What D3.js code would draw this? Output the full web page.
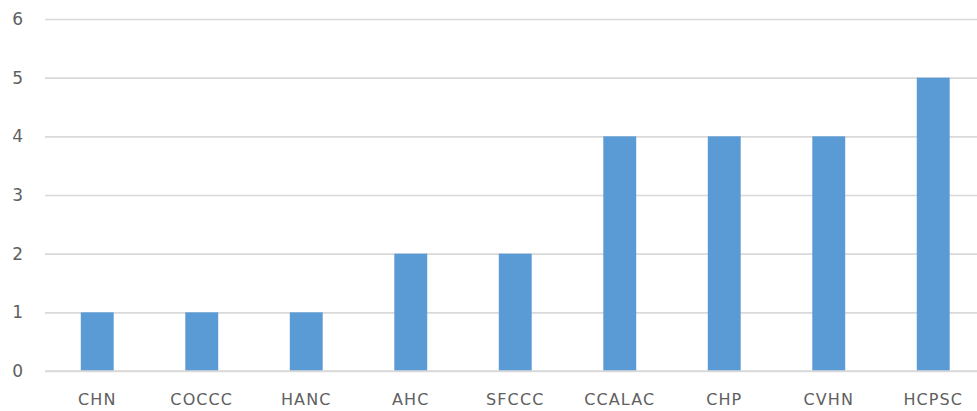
<!DOCTYPE html>
<html>
<head>
<meta charset="utf-8">
<script src="https://cdn.jsdelivr.net/npm/d3@7"></script>
<style>
  html, body { margin: 0; padding: 0; background: #fff; }
  svg { display: block; }
  .tick text { font-family: "DejaVu Sans", Verdana, sans-serif; fill: #606060; }
</style>
</head>
<body>
<svg id="chart" width="977" height="411"></svg>
<script>
// Organisation names and the count for each one
const categories = ["CHN", "COCCC", "HANC", "AHC", "SFCCC", "CCALAC", "CHP", "CVHN", "HCPSC"];
const counts = [1, 1, 1, 2, 2, 4, 4, 4, 5];
const yTicks = [0, 1, 2, 3, 4, 5, 6];

const svg = d3.select("#chart");
const plot = { left: 45, right: 985.5, top: 19, bottom: 371 };

const x = d3.scaleBand()
  .domain(categories)
  .range([plot.left, plot.right])
  .paddingInner(0.685)
  .paddingOuter(0.3425);

const y = d3.scaleLinear()
  .domain([0, 6])
  .range([plot.bottom, plot.top]);

// Horizontal gridlines with value labels on the left
const yAxis = svg.append("g")
  .attr("transform", `translate(${plot.left},0)`)
  .call(d3.axisLeft(y).tickValues(yTicks).tickFormat(d3.format("d"))
    .tickSize(-(plot.right - plot.left)).tickPadding(22));
yAxis.select(".domain").remove();
yAxis.selectAll(".tick line").attr("stroke", "#d9d9d9").attr("stroke-width", 1.6);
yAxis.selectAll(".tick text").attr("font-size", 17);

// Bars
svg.append("g")
  .selectAll("rect")
  .data(categories.map((c, i) => ({ c, v: counts[i] })))
  .join("rect")
  .attr("x", d => x(d.c))
  .attr("width", x.bandwidth())
  .attr("y", d => y(d.v))
  .attr("height", d => y(0) - y(d.v))
  .attr("fill", "#5b9bd5");

// Redraw the baseline on top of the bars
svg.append("line")
  .attr("x1", plot.left).attr("x2", plot.right)
  .attr("y1", y(0)).attr("y2", y(0))
  .attr("stroke", "#d9d9d9").attr("stroke-width", 1.6);

// Category labels
const xAxis = svg.append("g")
  .attr("transform", `translate(0,${plot.bottom})`)
  .call(d3.axisBottom(x).tickSize(0).tickPadding(23));
xAxis.select(".domain").remove();
xAxis.selectAll(".tick text").attr("font-size", 16).attr("letter-spacing", 1.1);
</script>
</body>
</html>
